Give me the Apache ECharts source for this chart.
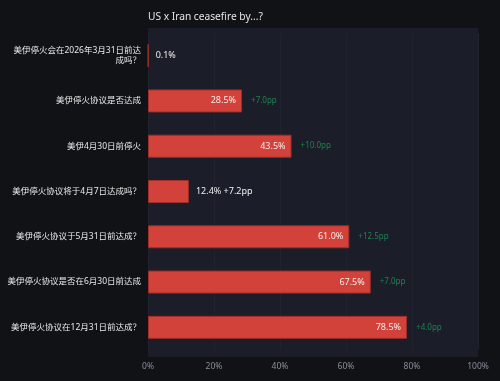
<!DOCTYPE html>
<html><head><meta charset="utf-8">
<script src="https://cdn.jsdelivr.net/npm/echarts@6/dist/echarts.min.js"></script>
<style>html,body{margin:0;padding:0;background:#111216;}#c{width:500px;height:381px;}</style>
</head><body><div id="c"></div>
<script>
const categories = [
  "美伊停火会在2026年3月31日前达成吗？",
  "美伊停火协议是否达成",
  "美伊4月30日前停火",
  "美伊停火协议将于4月7日达成吗？",
  "美伊停火协议于5月31日前达成？",
  "美伊停火协议是否在6月30日前达成",
  "美伊停火协议在12月31日前达成？"
];
const values = [0.1, 28.5, 43.5, 12.4, 61.0, 67.5, 78.5];
const deltas = [null, 7.0, 10.0, 7.2, 12.5, 7.0, 4.0];
const xTicks = [0, 20, 40, 60, 80, 100];

const chart = echarts.init(document.getElementById('c'), null, {renderer: 'canvas'});
const font = "'Noto Sans', 'Noto Sans CJK SC', sans-serif";
const INSIDE_MIN = 20;

const barData = values.map((v, i) => {
  const inside = v >= INSIDE_MIN;
  let txt;
  if (inside) txt = v.toFixed(1) + '%';
  else txt = v.toFixed(1) + '%' + (deltas[i] != null ? ' +' + deltas[i].toFixed(1) + 'pp' : '');
  return {
    value: v,
    label: {
      show: true,
      position: inside ? 'insideRight' : 'right',
      distance: inside ? 6 : 7,
      formatter: txt,
      color: '#f0f0f0',
      fontSize: 9,
      fontFamily: font
    }
  };
});

const deltaData = values.map((v, i) => ({
  value: [v, categories[i]],
  label: {
    show: v >= INSIDE_MIN && deltas[i] != null,
    formatter: deltas[i] != null ? '+' + deltas[i].toFixed(1) + 'pp' : ''
  }
}));

chart.setOption({
  backgroundColor: '#111216',
  animation: false,
  title: {
    text: 'US x Iran ceasefire by...?',
    left: 143, top: 7,
    textStyle: {color: '#e6e6e6', fontSize: 10.2, fontWeight: 'normal', fontFamily: font}
  },
  graphic: [{
    type: 'rect', z: -10, silent: true,
    shape: {x: 148, y: 28, width: 330, height: 329},
    style: {fill: '#1b1d28'}
  }],
  grid: {left: 148, right: 22, top: 33, bottom: 31, containLabel: false},
  xAxis: {
    type: 'value', min: 0, max: 100, interval: 20,
    axisLabel: {color: '#8a8e99', fontSize: 8.5, fontFamily: font, margin: 12,
      formatter: v => xTicks.includes(v) ? v + '%' : ''},
    axisLine: {show: false}, axisTick: {show: false},
    splitLine: {show: true, lineStyle: {color: '#20222e', width: 1}}
  },
  yAxis: {
    type: 'category', data: categories, inverse: true,
    axisLine: {show: false}, axisTick: {show: false},
    axisLabel: {color: '#e8e8e8', fontSize: 8.5, fontFamily: font, margin: 7,
      width: 135, overflow: 'break', lineHeight: 10}
  },
  series: [{
    type: 'bar', data: barData, barWidth: 23,
    itemStyle: {color: '#d2413a', borderColor: '#9e2f2a', borderWidth: 1}
  }, {
    type: 'scatter', data: deltaData, symbolSize: 0,
    label: {position: 'right', distance: 9, color: '#1f9d5a', fontSize: 8, fontFamily: font}
  }]
});
</script></body></html>
